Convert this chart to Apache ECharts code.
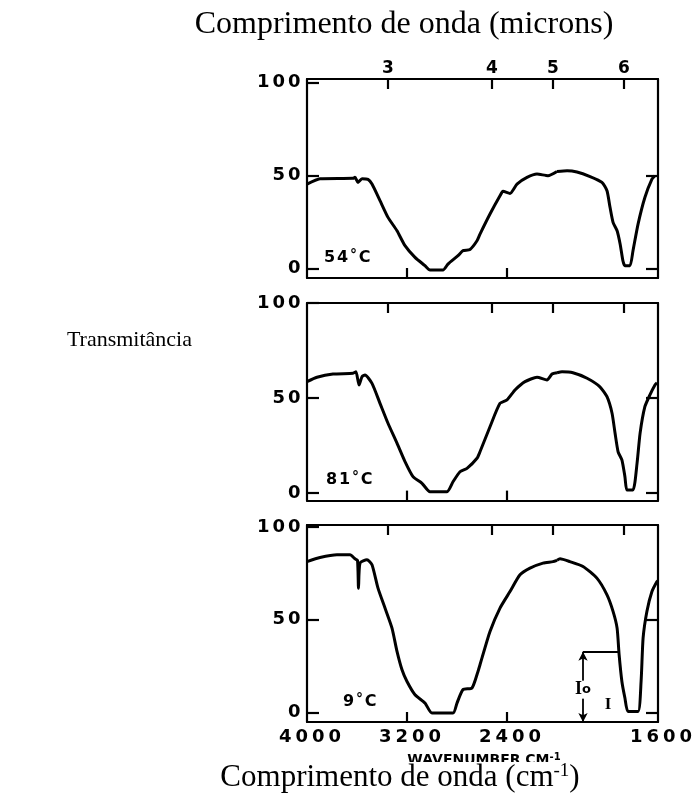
<!DOCTYPE html>
<html><head><meta charset="utf-8">
<script src="https://cdn.jsdelivr.net/npm/echarts@6/dist/echarts.min.js"></script>
<style>html,body{margin:0;padding:0;background:#fff}#c{width:696px;height:805px}</style>
</head><body><div id="c"></div>
<script>
// ---------- data (wavenumber cm^-1, transmittance %) ----------
const temperatures = ['54°C', '81°C', '9°C'];
const spectrum54 = [[4000,45.5],[3896,48.4],[3632,48.6],[3616,49.2],[3592,46.4],[3560,48.4],[3512,48],[3480,45.5],[3416,36.6],[3352,27.6],[3280,20.4],[3216,12.4],[3136,6.1],[3056,1.6],[3016,-0.7],[2912,-0.7],[2872,2.5],[2792,7],[2752,9.7],[2696,10.3],[2640,15],[2616,18.6],[2536,29.4],[2456,39.2],[2432,41.6],[2376,40.5],[2320,45.5],[2240,49.1],[2160,50.9],[2072,50],[2000,52.3],[1960,52.7],[1921,52],[1869,49.5],[1822,46.4],[1802,41.9],[1790,33],[1778,24.9],[1762,20.4],[1750,13.3],[1739,4.3],[1731,1.6],[1711,1.6],[1699,9.7],[1679,24],[1652,38.3],[1624,48.2],[1612,50]];
const spectrum81 = [[4000,58.6],[3920,60.9],[3792,62.6],[3632,63],[3608,63.8],[3584,56.8],[3560,61.2],[3536,62.1],[3480,57.7],[3416,47.2],[3352,36.7],[3280,26.2],[3216,16.5],[3152,8.6],[3080,5.1],[3016,0.7],[2880,0.7],[2832,5.9],[2776,11.2],[2720,13],[2640,18.3],[2616,21.7],[2536,34.9],[2456,47.2],[2400,49],[2336,54.2],[2256,58.6],[2160,60.9],[2080,59.5],[2040,62.6],[2000,63.3],[1980,63.8],[1937,63.3],[1881,60.4],[1830,55.9],[1802,50.7],[1782,42],[1770,31.4],[1758,21.7],[1743,17.4],[1731,8.6],[1723,1.6],[1699,1.6],[1683,15.6],[1671,31.4],[1652,45.4],[1632,51.6],[1612,56.8],[1604,58]];
const spectrum9 = [[4000,81.3],[3896,83.5],[3760,85],[3656,85],[3616,82.8],[3596,82],[3588,67],[3576,80.5],[3520,82.3],[3480,79.6],[3432,67],[3376,56.3],[3320,45.5],[3280,33],[3240,23.1],[3200,16.8],[3136,9.7],[3056,5.2],[3000,-0.2],[2832,-0.2],[2800,5.2],[2752,12.4],[2680,13.3],[2632,22.2],[2616,25.8],[2536,43.7],[2456,56.3],[2376,65.2],[2296,74.2],[2216,77.8],[2112,80.5],[2032,81.3],[2000,82],[1988,82.8],[1949,81.3],[1897,78.7],[1842,72.4],[1802,63.4],[1778,54.5],[1762,45.5],[1754,31.2],[1743,16.8],[1731,7.9],[1719,0.7],[1679,0.7],[1667,16.8],[1659,40.2],[1644,54.5],[1624,65.2],[1604,70.6],[1600,71]];
const spectra = [spectrum54, spectrum81, spectrum9];

const scaleBreak = 2000;                    // chart scale changes at 2000 cm^-1
const bottomLabelsLeft = [4000, 3200, 2400];
const bottomLabelsRight = [1600];
const bottomInnerTicks = [3200, 2400];
const yTickValues = [0, 50, 100];
const rightTickValues = [0, 50];
const micronLabels = ['3', '4', '5', '6'];
const micronTickAt = [3352, 2520, 2032, 1735];  // where the micron ticks sit on the cm^-1 scale
const ioLineAt = 1897, ioLevel = 32.8, ioCurveAt = 1758;
const ioLabelAt = [1897, 12.4], iLabelAt = [1798, 4.3];

// ---------- layout ----------
const panels = [
  {top: 79,  height: 199,   min: -5, max: 102},
  {top: 303, height: 197.6, min: -4, max: 100},
  {top: 525, height: 197,   min: -5, max: 101}
];
const leftX = 307, breakX = 557, rightX = 658;
const BLK = '#000';
const LET = 'DejaVu Sans';

function wide(s, key) { return String(s).split('').map(ch => '{' + (ch === '°' ? 'deg' : key) + '|' + ch + '}').join(''); }
function charStyle(w, fs) { return {width: w, align: 'center', fontFamily: LET, fontWeight: 'bold', fontSize: fs, color: BLK}; }

const grids = [], xAxes = [], yAxes = [], series = [];
panels.forEach((p, pi) => {
  const last = pi === panels.length - 1, first = pi === 0;
  [0, 1].forEach(side => {
    const gi = pi * 2 + side;
    const isL = side === 0;
    grids.push({left: isL ? leftX : breakX, top: p.top, width: isL ? breakX - leftX : rightX - breakX, height: p.height, containLabel: false, outerBoundsMode: 'none'});
    const range = isL ? {min: scaleBreak, max: 4000} : {min: 1600, max: scaleBreak};
    const tops = micronTickAt.filter(v => isL ? v >= scaleBreak : v < scaleBreak);
    // bottom
    xAxes.push({
      type: 'value', gridIndex: gi, position: 'bottom', inverse: true, ...range,
      axisLine: {show: true, onZero: false, lineStyle: {color: BLK, width: 2.2}},
      axisTick: isL ? {show: true, inside: true, length: 10, customValues: bottomInnerTicks, lineStyle: {color: BLK, width: 2.2}} : {show: false},
      axisLabel: {show: last, customValues: isL ? bottomLabelsLeft : bottomLabelsRight, margin: 6, padding: [0, 0, 0, 6],
        formatter: v => wide(v, 'b'), rich: {b: charStyle(16.5, 18)}},
      splitLine: {show: false}
    });
    // top (microns)
    xAxes.push({
      type: 'value', gridIndex: gi, position: 'top', inverse: true, ...range,
      axisLine: {show: true, onZero: false, lineStyle: {color: BLK, width: 2.2}},
      axisTick: {show: true, inside: true, length: 10, customValues: tops, lineStyle: {color: BLK, width: 2.2}},
      axisLabel: {show: first, customValues: tops, margin: 2,
        formatter: v => { let i = micronTickAt.findIndex(m => Math.abs(m - v) < 0.5); return i < 0 ? '' : wide(micronLabels[i], 'm'); },
        rich: {m: charStyle(14, 17)}},
      splitLine: {show: false}
    });
    yAxes.push({
      type: 'value', gridIndex: gi, position: isL ? 'left' : 'right', min: p.min, max: p.max,
      axisLine: {show: true, onZero: false, lineStyle: {color: BLK, width: 2.2}},
      axisTick: {show: true, inside: true, length: 12, customValues: isL ? yTickValues : rightTickValues, lineStyle: {color: BLK, width: 2.2}},
      axisLabel: {show: isL, customValues: yTickValues, margin: 5, formatter: v => wide(v, 'y'), rich: {y: charStyle(15.5, 18)}},
      splitLine: {show: false}
    });
    const data = spectra[pi].filter(d => isL ? d[0] >= scaleBreak : d[0] <= scaleBreak);
    const s = {
      type: 'line', xAxisIndex: gi * 2, yAxisIndex: gi, data: data, showSymbol: false, symbol: 'none',
      lineStyle: {color: BLK, width: 3, join: 'round'}, smooth: 0.2, silent: true, z: 3
    };
    if (last && !isL) {
      s.markLine = {
        silent: true, symbol: ['none', 'none'], animation: false,
        lineStyle: {color: BLK, width: 1.8, type: 'solid'}, label: {show: false},
        data: [
          [{coord: [ioLineAt, ioLevel], symbol: 'arrow', symbolSize: [7, 9]}, {coord: [ioLineAt, p.min], symbol: 'arrow', symbolSize: [7, 9]}],
          [{coord: [ioLineAt, ioLevel], symbol: 'none'}, {coord: [ioCurveAt, ioLevel], symbol: 'none'}]
        ]
      };
      s.markPoint = {
        silent: true, animation: false,
        data: [
          {coord: ioLabelAt, symbol: 'rect', symbolSize: [24, 18], itemStyle: {color: '#fff'},
           label: {show: true, position: 'inside', formatter: '{a|I}{b|o}', rich: {a: {fontFamily: 'Liberation Serif', fontWeight: 'bold', fontSize: 18, color: BLK}, b: {fontFamily: LET, fontWeight: 'bold', fontSize: 13, color: BLK}}}},
          {coord: iLabelAt, symbol: 'rect', symbolSize: [1, 1], itemStyle: {color: 'rgba(0,0,0,0)'},
           label: {show: true, position: 'inside', formatter: 'I', fontFamily: 'Liberation Serif', fontWeight: 'bold', fontSize: 17, color: BLK}}
        ]
      };
    }
    series.push(s);
  });
});

const tempPos = [[323, 258], [325, 480], [342, 702]];
const graphics = [
  {type: 'text', x: 404, y: 25, z: 10, style: {text: 'Comprimento de onda (microns)', font: '32px "Liberation Serif"', fill: BLK, align: 'center', verticalAlign: 'middle'}},
  {type: 'text', x: 192, y: 340, z: 10, style: {text: 'Transmitância', font: '22px "Liberation Serif"', fill: BLK, align: 'right', verticalAlign: 'middle'}},
  {type: 'text', x: 484, y: 752, z: 5, style: {text: '{w|WAVENUMBER CM}{s|-1}', align: 'center', verticalAlign: 'top',
     rich: {w: {fontFamily: LET, fontWeight: 'bold', fontSize: 14, color: BLK}, s: {fontFamily: LET, fontWeight: 'bold', fontSize: 10, color: BLK, verticalAlign: 'top', padding: [0,0,6,0]}}}},
  {type: 'rect', z: 6, shape: {x: 360, y: 762, width: 260, height: 14}, style: {fill: '#fff'}},
  {type: 'text', x: 400, y: 778, z: 10, style: {text: 'Comprimento de onda (cm{s|-1})', font: '31px "Liberation Serif"', fill: BLK, align: 'center', verticalAlign: 'middle',
     rich: {s: {fontFamily: 'Liberation Serif', fontSize: 19, verticalAlign: 'top', padding: [0, 0, 14, 0]}}}}
];
temperatures.forEach((t, i) => {
  graphics.push({type: 'text', x: tempPos[i][0], y: tempPos[i][1], z: 10, style: {text: wide(t, 't'), align: 'left', verticalAlign: 'middle',
    rich: {t: charStyle(13, 16), deg: {width: 9, align: 'center', fontFamily: LET, fontWeight: 'bold', fontSize: 14, color: BLK, verticalAlign: 'top', padding: [0, 0, 6, 0]}}}});
});

const chart = echarts.init(document.getElementById('c'), null, {renderer: 'canvas'});
chart.setOption({
  animation: false,
  backgroundColor: '#fff',
  grid: grids, xAxis: xAxes, yAxis: yAxes, series: series,
  graphic: graphics
});
</script></body></html>
